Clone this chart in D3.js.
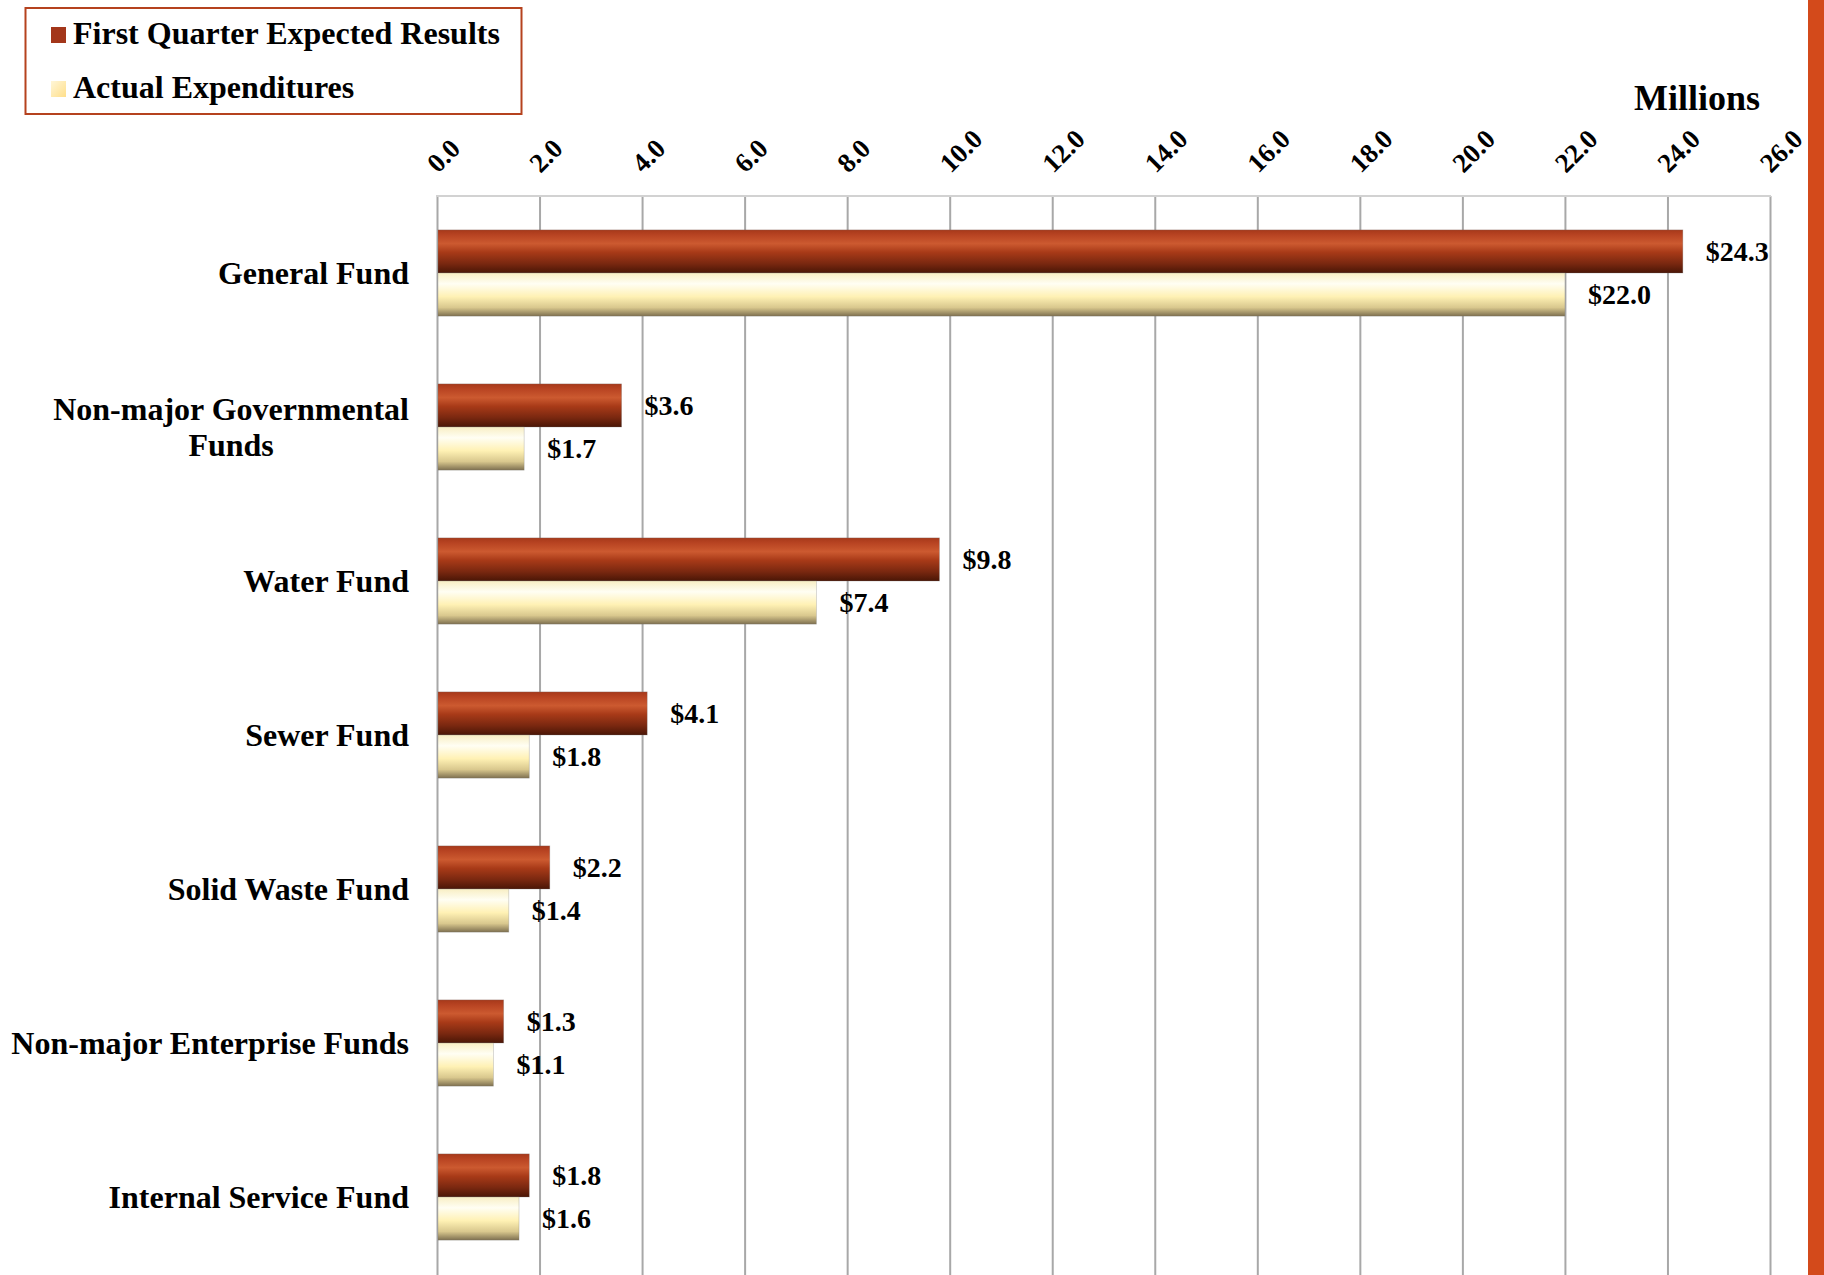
<!DOCTYPE html>
<html lang="en">
<head>
<meta charset="UTF-8">
<title>First Quarter Expected Results vs Actual Expenditures</title>
<script src="https://d3js.org/d3.v7.min.js"></script>
<style>
  html, body { margin: 0; padding: 0; background: #fff; }
  svg { display: block; font-family: "Liberation Serif", "Times New Roman", serif; font-weight: bold; }
</style>
</head>
<body>
<svg width="1824" height="1275"></svg>
<script>
const categories = ["General Fund", "Non-major Governmental Funds", "Water Fund", "Sewer Fund",
                    "Solid Waste Fund", "Non-major Enterprise Funds", "Internal Service Fund"];
const seriesNames = ["First Quarter Expected Results", "Actual Expenditures"];
const expected = [24.3, 3.6, 9.8, 4.1, 2.2, 1.3, 1.8];
const actual = [22.0, 1.7, 7.4, 1.8, 1.4, 1.1, 1.6];
const tickValues = [0, 2, 4, 6, 8, 10, 12, 14, 16, 18, 20, 22, 24, 26];

const W = 1824, H = 1275;
const plot = { left: 437, right: 1770, top: 196, bottom: 1274 };

const svg = d3.select("svg");
const defs = svg.append("defs");

// bar shading
const redGrad = defs.append("linearGradient").attr("id", "gRed")
  .attr("x1", 0).attr("y1", 0).attr("x2", 0).attr("y2", 1);
[[0, "#a6381a"], [0.12, "#b84422"], [0.32, "#cc5a30"], [0.52, "#a83a18"], [0.78, "#7a2810"], [1, "#4a1606"]]
  .forEach(s => redGrad.append("stop").attr("offset", s[0]).attr("stop-color", s[1]));

const creamGrad = defs.append("linearGradient").attr("id", "gCream")
  .attr("x1", 0).attr("y1", 0).attr("x2", 0).attr("y2", 1);
[[0, "#f8eec4"], [0.25, "#fffef3"], [0.55, "#fff1b4"], [0.8, "#d9c88e"], [1, "#7e7050"]]
  .forEach(s => creamGrad.append("stop").attr("offset", s[0]).attr("stop-color", s[1]));

const swatchGrad = defs.append("linearGradient").attr("id", "gSwatch")
  .attr("x1", 0).attr("y1", 0).attr("x2", 1).attr("y2", 1);
swatchGrad.append("stop").attr("offset", 0).attr("stop-color", "#fff6d8");
swatchGrad.append("stop").attr("offset", 1).attr("stop-color", "#ffdf8a");

const fills = ["url(#gRed)", "url(#gCream)"];

const x = d3.scaleLinear().domain([0, 26]).range([plot.left, plot.right]);
const y = d3.scaleBand().domain(categories).range([plot.top, plot.bottom])
  .paddingInner(0.44).paddingOuter(0.22);
const ySub = d3.scaleBand().domain(seriesNames).range([0, y.bandwidth()]);

const rows = categories.map((c, i) => ({ cat: c, values: [expected[i], actual[i]] }));

// gridlines
svg.append("g")
  .attr("transform", `translate(0,${plot.top})`)
  .call(d3.axisTop(x).tickValues(tickValues).tickSize(-(H - plot.top)).tickFormat(""))
  .call(g => g.select(".domain").remove())
  .call(g => g.selectAll(".tick line").attr("stroke", "#a8a8a8").attr("stroke-width", 2));

svg.append("line")
  .attr("x1", plot.left - 1).attr("x2", plot.right + 1)
  .attr("y1", plot.top).attr("y2", plot.top)
  .attr("stroke", "#d2d2d2").attr("stroke-width", 2);

// tick labels
svg.append("g").selectAll("text")
  .data(tickValues)
  .join("text")
  .attr("transform", d => `translate(${x(d) + 1},174) rotate(-45)`)
  .attr("font-size", 27)
  .attr("fill", "#000")
  .text(d3.format(".1f"));

// bars
const groups = svg.append("g").selectAll("g")
  .data(rows)
  .join("g")
  .attr("transform", d => `translate(0,${y(d.cat)})`);

groups.selectAll("rect")
  .data(d => d.values.map((v, k) => ({ v, k })))
  .join("rect")
  .attr("x", x(0) + 1)
  .attr("y", d => ySub(seriesNames[d.k]))
  .attr("width", d => x(d.v) - x(0) - 1)
  .attr("height", ySub.bandwidth())
  .attr("fill", d => fills[d.k])
  .attr("stroke", "rgba(120,120,120,0.35)")
  .attr("stroke-width", 0.8);

groups.selectAll("text")
  .data(d => d.values.map((v, k) => ({ v, k })))
  .join("text")
  .attr("x", d => x(d.v) + 23)
  .attr("y", d => ySub(seriesNames[d.k]) + ySub.bandwidth() / 2)
  .attr("dy", "0.35em")
  .attr("font-size", 28)
  .attr("fill", "#000")
  .text(d => "$" + d3.format(".1f")(d.v));

// category labels (wrapped when too long)
const labelRight = 409, lineH = 36, maxW = 420;
const catLabels = svg.append("g").selectAll("text")
  .data(categories)
  .join("text")
  .attr("font-size", 32)
  .attr("fill", "#000");

catLabels.each(function(c) {
  const t = d3.select(this);
  t.text(c);
  let lines = [c];
  if (this.getComputedTextLength() > maxW) {
    const words = c.split(" ");
    lines = [words.slice(0, -1).join(" "), words[words.length - 1]];
  }
  t.text(null);
  const cy = y(c) + y.bandwidth() / 2;
  const spans = lines.map((ln, i) => t.append("tspan")
    .attr("y", cy + (i - (lines.length - 1) / 2) * lineH)
    .attr("dy", "0.35em")
    .text(ln));
  const widths = spans.map(s => s.node().getComputedTextLength());
  const widest = d3.max(widths);
  spans.forEach(s => s.attr("x", labelRight - widest / 2).attr("text-anchor", "middle"));
});

// axis unit
svg.append("text")
  .attr("x", 1760).attr("y", 110)
  .attr("text-anchor", "end")
  .attr("font-size", 36)
  .text("Millions");

// legend
const legend = svg.append("g");
legend.append("rect")
  .attr("x", 25.5).attr("y", 8).attr("width", 496).attr("height", 106)
  .attr("fill", "#fff").attr("stroke", "#b5421e").attr("stroke-width", 2);
const swatchFills = ["#a3361a", "url(#gSwatch)"];
seriesNames.forEach((s, i) => {
  const by = 44 + i * 54;
  legend.append("rect")
    .attr("x", 51).attr("y", by - 17).attr("width", 15).attr("height", 16)
    .attr("fill", swatchFills[i]);
  legend.append("text")
    .attr("x", 73).attr("y", by)
    .attr("font-size", 32)
    .text(s);
});

// decorative page strip on the right
svg.append("rect")
  .attr("x", 1808).attr("y", 0).attr("width", W - 1808).attr("height", H)
  .attr("fill", "#d34a1b");
</script>
</body>
</html>
